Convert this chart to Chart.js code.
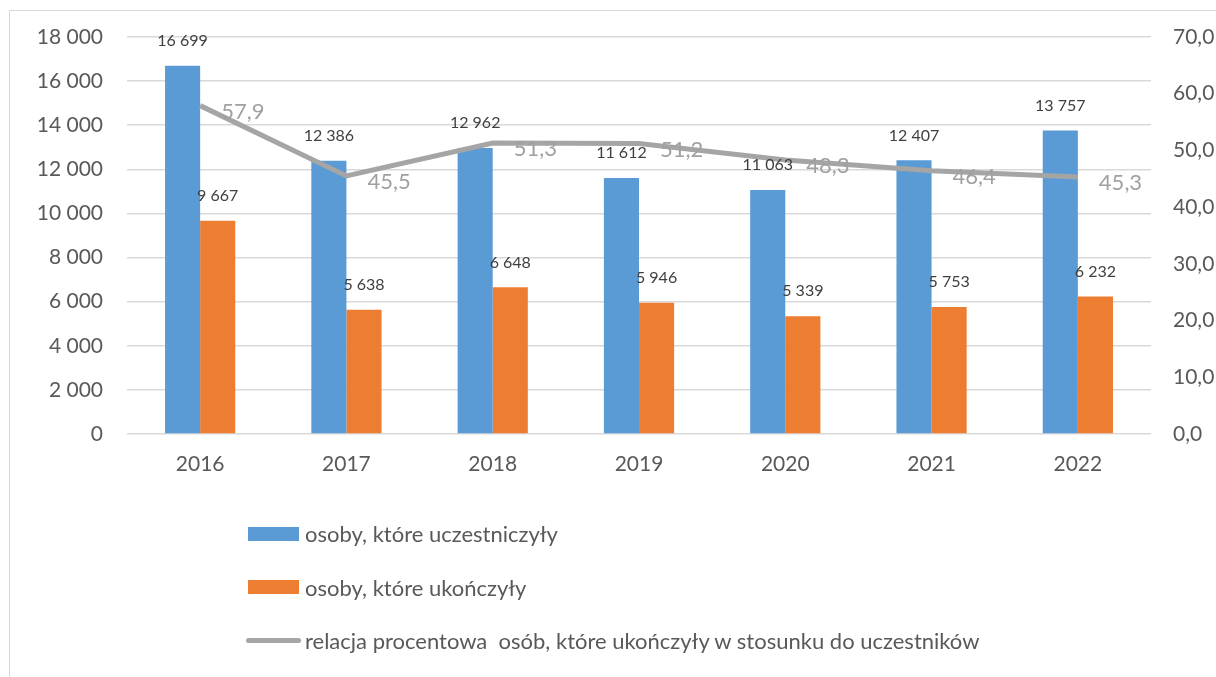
<!DOCTYPE html>
<html>
<head>
<meta charset="utf-8">
<script src="https://cdn.jsdelivr.net/npm/chart.js@4/dist/chart.umd.min.js"></script>
<style>
  html, body { margin: 0; padding: 0; background: #fff; overflow: hidden; }
  #wrap { position: relative; width: 1216px; height: 677px; }
  #frame { position: absolute; left: 9px; top: 10px; width: 1300px; height: 800px; border: 1.5px solid #d9d9d9; }
  #chart { position: absolute; left: 0; top: 0; }
  .legend { position: absolute; left: 246px; top: 507px; font-family: Lato, sans-serif; font-size: 22px; color: #595959; white-space: pre; }
  .legend-row { display: flex; align-items: center; height: 53.5px; }
  .sw { width: 51px; height: 14px; margin: 0 6px 0 2px; }
  .sw-line { width: 55px; height: 5px; border-radius: 3px; margin: 0 4px 0 0; background: #a5a5a5; }
</style>
</head>
<body>
<div id="wrap">
  <div id="frame"></div>
  <canvas id="chart" width="1216" height="677"></canvas>
  <div class="legend" id="legend"></div>
</div>
<script>
// ── Data ──
const years = ['2016', '2017', '2018', '2019', '2020', '2021', '2022'];
const participants = [16699, 12386, 12962, 11612, 11063, 12407, 13757];
const graduates = [9667, 5638, 6648, 5946, 5339, 5753, 6232];
const ratio = [57.9, 45.5, 51.3, 51.2, 48.3, 46.4, 45.3];

const LABELS = [
    'osoby, które uczestniczyły',
    'osoby, które ukończyły',
    'relacja procentowa  osób, które ukończyły w stosunku do uczestników',
];

const BLUE = '#5b9bd5';
const ORANGE = '#ed7d31';
const GRAY = '#a5a5a5';
const FONT = 'Lato, sans-serif';

const fmtInt = v => String(v).replace(/\B(?=(\d{3})+(?!\d))/g, ' ');
const fmtDec = v => v.toFixed(1).replace('.', ',');

// ── Value labels ──
const valueLabels = {
    id: 'valueLabels',
    afterDatasetsDraw(chart) {
        const ctx = chart.ctx;
        ctx.save();
        chart.data.datasets.forEach((ds, i) => {
            const meta = chart.getDatasetMeta(i);
            meta.data.forEach((el, j) => {
                const v = ds.data[j];
                if (ds.type === 'line') {
                    ctx.font = `22px ${FONT}`;
                    ctx.fillStyle = '#a0a0a0';
                    ctx.textAlign = 'left';
                    ctx.textBaseline = 'middle';
                    ctx.fillText(fmtDec(v), el.x + 21, el.y + 6);
                } else {
                    ctx.font = `16px ${FONT}`;
                    ctx.fillStyle = '#404040';
                    ctx.textAlign = 'center';
                    ctx.textBaseline = 'middle';
                    ctx.fillText(fmtInt(v), el.x, el.y - 25);
                }
            });
        });
        ctx.restore();
    }
};

// ── Chart ──
const chart = new Chart(document.getElementById('chart').getContext('2d'), {
    data: {
        labels: years,
        datasets: [
            {
                type: 'line',
                label: LABELS[2],
                data: ratio,
                yAxisID: 'y1',
                borderColor: GRAY,
                borderWidth: 5,
                pointRadius: 0,
                tension: 0,
                order: 0,
            },
            {
                type: 'bar',
                label: LABELS[0],
                data: participants,
                yAxisID: 'y',
                backgroundColor: BLUE,
                barPercentage: 1,
                categoryPercentage: 0.48,
                order: 1,
            },
            {
                type: 'bar',
                label: LABELS[1],
                data: graduates,
                yAxisID: 'y',
                backgroundColor: ORANGE,
                barPercentage: 1,
                categoryPercentage: 0.48,
                order: 2,
            },
        ]
    },
    options: {
        responsive: false,
        animation: false,
        layout: { padding: { top: 37, left: 0, right: 0, bottom: 0 } },
        plugins: {
            legend: { display: false },
            tooltip: { enabled: false },
        },
        scales: {
            x: {
                grid: { display: false },
                border: { display: false },
                ticks: { color: '#595959', font: { family: FONT, size: 21 }, padding: 10 },
                afterFit: s => { s.height = 243; },
            },
            y: {
                position: 'left',
                min: 0, max: 18000,
                grid: { color: '#d9d9d9', lineWidth: 1.5, drawTicks: false },
                border: { display: false },
                ticks: {
                    stepSize: 2000,
                    color: '#595959',
                    font: { family: FONT, size: 21 },
                    padding: 24,
                    callback: v => fmtInt(v),
                },
                afterFit: s => { s.width = 127; },
            },
            y1: {
                position: 'right',
                min: 0, max: 70,
                grid: { display: false, drawTicks: false },
                border: { display: false },
                ticks: {
                    stepSize: 10,
                    color: '#595959',
                    font: { family: FONT, size: 21 },
                    padding: 22,
                    callback: v => fmtDec(v),
                },
                afterFit: s => { s.width = 65; },
            },
        }
    },
    plugins: [valueLabels]
});

// ── HTML legend ──
const legend = document.getElementById('legend');
[[BLUE, 'sw'], [ORANGE, 'sw'], [GRAY, 'sw-line']].forEach(([color, cls], i) => {
    const row = document.createElement('div');
    row.className = 'legend-row';
    row.innerHTML = `<span class="${cls}" style="background:${color}"></span><span>${LABELS[i]}</span>`;
    legend.appendChild(row);
});
</script>
</body>
</html>
